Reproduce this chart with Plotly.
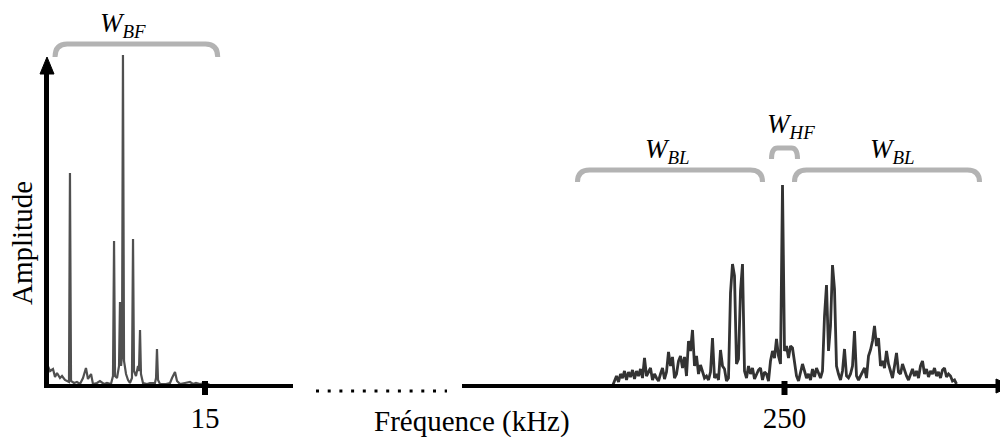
import plotly.graph_objects as go

# ---------------- data ----------------
# Low-frequency band (kHz) and amplitude (a.u.)
lf_freq_khz = [0.00, 0.09, 0.38, 0.66, 0.85, 1.04, 1.32, 1.51, 1.79, 1.98,
               2.17, 2.26, 2.36, 2.64, 2.92, 3.21, 3.49, 3.77, 3.96, 4.25,
               4.43, 4.81, 5.09, 5.47, 5.75, 6.13, 6.32, 6.42, 6.51, 6.70,
               6.89, 6.98, 7.08, 7.17, 7.26, 7.36, 7.55, 7.74, 7.92, 8.11,
               8.21, 8.30, 8.49, 8.68, 8.77, 8.87, 8.96, 9.15, 9.53, 9.81,
               10.28, 10.38, 10.47, 10.57, 10.75, 11.32, 11.70, 11.89, 12.17, 12.36,
               12.64, 13.11, 13.58, 13.87, 14.15, 14.53, 15.00, 15.47, 15.94]
lf_amp = [25, 22, 15, 17, 9, 13, 8, 10, 6, 5,
          4, 213, 5, 3, 4, 2, 8, 18, 7, 12,
          2, 3, 5, 2, 3, 2, 10, 145, 10, 8,
          20, 84, 20, 30, 331, 25, 12, 6, 3, 8,
          147, 15, 10, 20, 15, 56, 12, 3, 2, 3,
          3, 8, 37, 6, 2, 2, 3, 8, 14, 5,
          2, 3, 4, 2, 3, 2, 3, 1, 0]

# High-frequency band around the 250 kHz carrier
hf_freq_khz = list(range(164, 337))
hf_amp = [0, 6, 10, 4, 12, 8, 15, 6, 14, 9,
          16, 7, 15, 10, 17, 8, 28, 10, 14, 18,
          6, 12, 8, 5, 12, 18, 7, 14, 34, 20,
          29, 8, 12, 25, 30, 18, 29, 10, 45, 35,
          56, 20, 30, 12, 21, 15, 8, 10, 6, 14,
          48, 8, 12, 6, 36, 20, 17, 5, 8, 93,
          122, 110, 22, 27, 95, 122, 15, 8, 20, 12,
          18, 7, 12, 16, 18, 6, 14, 12, 5, 25,
          35, 28, 47, 30, 22, 201, 35, 40, 28, 40,
          38, 22, 10, 5, 14, 22, 15, 8, 12, 6,
          17, 9, 18, 12, 8, 15, 70, 101, 35, 60,
          121, 97, 20, 12, 6, 15, 37, 10, 8, 12,
          20, 55, 10, 6, 10, 14, 18, 8, 30, 36,
          45, 60, 40, 48, 20, 25, 18, 35, 22, 15,
          8, 20, 33, 14, 12, 22, 15, 10, 6, 12,
          17, 10, 15, 8, 20, 25, 12, 17, 9, 15,
          12, 18, 10, 14, 8, 16, 18, 9, 12, 10,
          5, 6, 2]

lf_tick_vals = [15]
lf_tick_text = ["15"]
hf_tick_vals = [250]
hf_tick_text = ["250"]

# Bands marked with braces: (axis, start kHz, end kHz, label, label centre kHz)
bands = [
    ("x", 0.85, 16.2, "<i>W</i><sub><i>BF</i></sub>", 7.3),
    ("x2", 146.5, 239.0, "<i>W</i><sub><i>BL</i></sub>", 191.5),
    ("x2", 243.5, 256.5, "<i>W</i><sub><i>HF</i></sub>", 253.0),
    ("x2", 255.0, 347.5, "<i>W</i><sub><i>BL</i></sub>", 304.0),
]

# ---------------- layout helpers (pixel -> paper) ----------------
W, H = 1000, 437
def px(x):
    return x / W
def py(y):
    return 1 - y / H

FONT = "Times New Roman, Liberation Serif, DejaVu Serif, serif"
BASE_Y = 386          # pixel row of the frequency axis
TOP_Y = 40
LF_X0, LF_X1 = 46, 293
HF_X0, HF_X1 = 462, 1000
LF_PX_PER_KHZ = 10.6
HF_PX_PER_KHZ = 2.0
HF_CENTER_PX = 784.5

lf_range = [0, (LF_X1 - LF_X0) / LF_PX_PER_KHZ]
hf_range = [250 - (HF_CENTER_PX - HF_X0) / HF_PX_PER_KHZ,
            250 + (HF_X1 - HF_CENTER_PX) / HF_PX_PER_KHZ]
amp_range = [0, BASE_Y - TOP_Y]

fig = go.Figure()
fig.add_trace(go.Scatter(x=lf_freq_khz, y=lf_amp, mode="lines",
                         line=dict(color="#505050", width=2.2),
                         xaxis="x", yaxis="y", hoverinfo="skip"))
fig.add_trace(go.Scatter(x=hf_freq_khz, y=hf_amp, mode="lines",
                         line=dict(color="#333333", width=2.8),
                         xaxis="x2", yaxis="y", hoverinfo="skip"))

axis_common = dict(showgrid=False, zeroline=False, showline=False, ticks="",
                   tickfont=dict(family=FONT, size=29, color="black"),
                   ticklabelstandoff=12, fixedrange=True)
fig.update_layout(
    width=W, height=H,
    margin=dict(l=0, r=0, t=0, b=0),
    paper_bgcolor="white", plot_bgcolor="rgba(0,0,0,0)",
    font=dict(family=FONT, color="black"),
    showlegend=False,
    xaxis=dict(domain=[px(LF_X0), px(LF_X1)], range=lf_range, anchor="y",
               tickmode="array", tickvals=lf_tick_vals, ticktext=lf_tick_text,
               **axis_common),
    xaxis2=dict(domain=[px(HF_X0), px(HF_X1)], range=hf_range, anchor="y",
                tickmode="array", tickvals=hf_tick_vals, ticktext=hf_tick_text,
                **axis_common),
    yaxis=dict(domain=[py(BASE_Y), py(TOP_Y)], range=amp_range, anchor="x",
               showgrid=False, zeroline=False, showline=False,
               showticklabels=False, ticks="", fixedrange=True),
)

shapes = []
black = "black"
# amplitude axis with arrow
shapes.append(dict(type="line", xref="paper", yref="paper",
                   x0=px(46.5), x1=px(46.5), y0=py(BASE_Y + 2), y1=py(70),
                   line=dict(color=black, width=5)))
shapes.append(dict(type="path", xref="paper", yref="paper",
                   path=f"M {px(47)},{py(57)} L {px(40)},{py(74)} L {px(54)},{py(74)} Z",
                   fillcolor=black, line=dict(color=black, width=1)))
# frequency axis: left segment, dotted break, right segment with arrow
shapes.append(dict(type="line", xref="paper", yref="paper",
                   x0=px(44), x1=px(LF_X1), y0=py(BASE_Y), y1=py(BASE_Y),
                   line=dict(color=black, width=4)))
shapes.append(dict(type="line", xref="paper", yref="paper",
                   x0=px(316), x1=px(447), y0=py(391), y1=py(391),
                   line=dict(color=black, width=3, dash="3px,8.7px")))
shapes.append(dict(type="line", xref="paper", yref="paper",
                   x0=px(HF_X0), x1=px(1000), y0=py(BASE_Y), y1=py(BASE_Y),
                   line=dict(color=black, width=4)))
shapes.append(dict(type="path", xref="paper", yref="paper",
                   path=f"M {px(996)},{py(379)} L {px(996)},{py(393)} L {px(1012)},{py(386)} Z",
                   fillcolor=black, line=dict(color=black, width=1)))
# tick marks
for xr, vals in (("x", lf_tick_vals), ("x2", hf_tick_vals)):
    for v in vals:
        shapes.append(dict(type="line", xref=xr, yref="paper",
                           x0=v, x1=v, y0=py(395), y1=py(381),
                           line=dict(color=black, width=6)))

# braces + labels
brace_geo = [
    dict(radius=1.15, top=44, end=57, label_y=25),
    dict(radius=6.0, top=170, end=182, label_y=151),
    dict(radius=3.0, top=148, end=159, label_y=126),
    dict(radius=6.0, top=170, end=182, label_y=151),
]
annotations = []
for (xr, a, b, label, lx), g in zip(bands, brace_geo):
    r = g["radius"]
    yt, ye = py(g["top"]), py(g["end"])
    path = (f"M {a},{ye} Q {a},{yt} {a + r},{yt} "
            f"L {b - r},{yt} Q {b},{yt} {b},{ye}")
    shapes.append(dict(type="path", xref=xr, yref="paper", path=path,
                       line=dict(color="#b3b3b3", width=5)))
    annotations.append(dict(xref=xr, yref="paper", x=lx, y=py(g["label_y"]),
                            text=label, showarrow=False, xanchor="center", yanchor="middle",
                            font=dict(family=FONT, size=27, color="black")))

annotations.append(dict(xref="paper", yref="paper", x=px(22), y=py(243),
                        text="Amplitude", textangle=-90, showarrow=False,
                        xanchor="center", yanchor="middle",
                        font=dict(family=FONT, size=29, color="black")))
annotations.append(dict(xref="paper", yref="paper", x=px(472), y=py(421),
                        text="Fréquence (kHz)", showarrow=False,
                        xanchor="center", yanchor="middle",
                        font=dict(family=FONT, size=29, color="black")))

fig.update_layout(shapes=shapes, annotations=annotations)
fig.write_html("out.html", config={"displayModeBar": False},
               post_script="document.body.style.margin='0';document.body.style.overflow='hidden';")
